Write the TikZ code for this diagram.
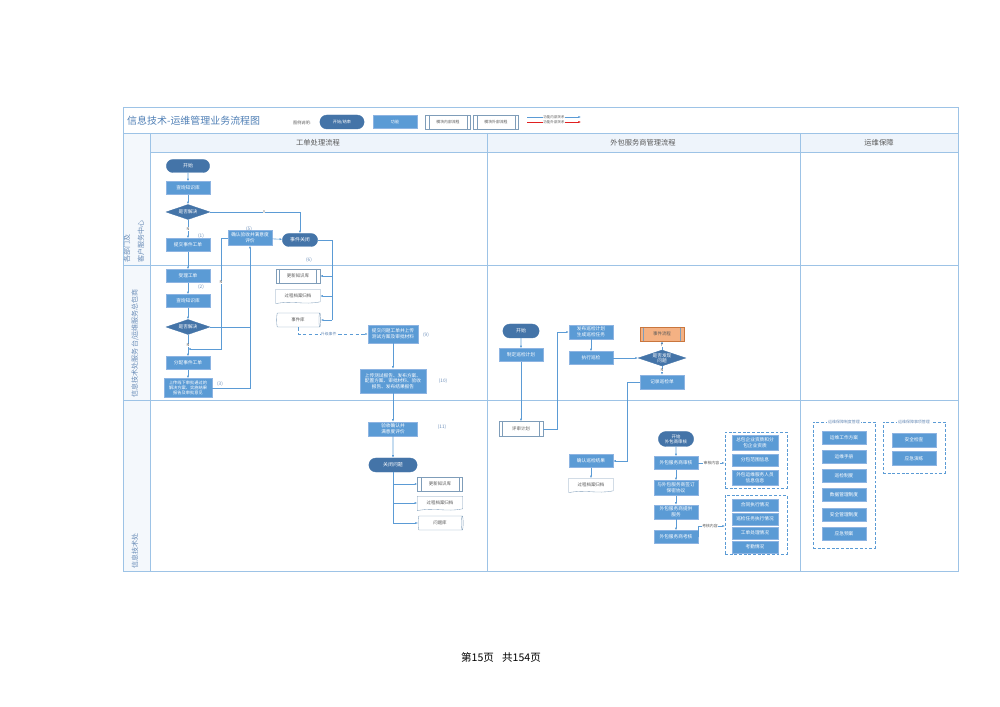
\documentclass[tikz,border=0pt]{standalone}
\usepackage{fontspec}
\setmainfont{Noto Sans CJK SC}
\usetikzlibrary{shapes.geometric,shapes.misc,arrows.meta,calc}
\definecolor{boxb}{HTML}{5B9BD5}
\definecolor{boxe}{HTML}{8DB4E2}
\definecolor{stad}{HTML}{4474A8}
\definecolor{lineb}{HTML}{5B9BD5}
\definecolor{lanec}{HTML}{9DC3E6}
\definecolor{hdrc}{HTML}{EEF4FB}
\definecolor{lanef}{HTML}{F4F8FC}
\definecolor{ttlc}{HTML}{4F7FB5}
\definecolor{lblc}{HTML}{6A8DB8}
\definecolor{orng}{HTML}{F4B183}
\definecolor{orngd}{HTML}{C9763E}
\definecolor{grayt}{HTML}{595959}
\definecolor{shapeb}{HTML}{7F9DB9}
\definecolor{redl}{HTML}{E02020}
\tikzset{
  wh/.style 2 args={minimum width=#1*0.3mm, minimum height=#2*0.3mm},
  cwh/.style 2 args={minimum height=#1*0.3mm, minimum width=#2*0.3mm},
  fbox/.style={rectangle, draw=boxe, line width=0.3pt, fill=boxb, text=white, inner sep=0.3pt, align=center, font=\fontsize{4}{4.8}\selectfont},
  sbox/.style={rounded rectangle, draw=stad, line width=0.3pt, fill=stad, text=white, inner sep=0.3pt, align=center, font=\fontsize{4.2}{5}\selectfont},
  dbox/.style={diamond, aspect=3, draw=stad, line width=0.3pt, fill=stad, text=white, inner sep=0pt, align=center, font=\fontsize{4}{4.6}\selectfont},
  pbox/.style={rectangle, draw=shapeb, line width=0.3pt, fill=white, text=grayt, inner sep=0.3pt, align=center, font=\fontsize{3.8}{4.5}\selectfont,
    path picture={\draw[shapeb, line width=0.3pt] ([xshift=3pt]path picture bounding box.north west) -- ([xshift=3pt]path picture bounding box.south west) ([xshift=-3pt]path picture bounding box.north east) -- ([xshift=-3pt]path picture bounding box.south east);}},
  docn/.style={rectangle, draw=none, text=grayt, inner sep=0.3pt, align=center, font=\fontsize{3.8}{4.5}\selectfont},
  cyl/.style={cylinder, shape aspect=0.35, draw=shapeb, line width=0.3pt, fill=white, text=grayt, inner sep=0.3pt, align=center, font=\fontsize{3.8}{4.5}\selectfont},
  grp/.style={rectangle, draw=boxb, dash pattern=on 2.5pt off 1.5pt, line width=0.5pt, fill=none},
  flow/.style={draw=lineb, line width=0.5pt, -{Latex[length=2.2pt,width=1.8pt]}},
  plain/.style={draw=lineb, line width=0.5pt},
  lbl/.style={text=lblc, font=\fontsize{4}{5}\selectfont, inner sep=0.5pt},
  yn/.style={fill=white, text=grayt, font=\fontsize{3.3}{4}\selectfont, inner sep=0.3pt},
  lanetext/.style={text=lblc, font=\fontsize{6}{7}\selectfont, inner sep=0.5pt},
  hdrtext/.style={text=grayt, font=\fontsize{6.2}{7}\selectfont},
  gtitle/.style={fill=white, text=lblc, font=\fontsize{3.4}{4}\selectfont, inner sep=0.6pt}
}
\newcommand{\docsh}[1]{\draw[shapeb, line width=0.3pt] ([yshift=-0.8pt]#1.south west) -- (#1.north west) -- (#1.north east) -- ([yshift=0.8pt]#1.south east) .. controls ($(#1.south)+(5pt,-2.2pt)$) and ($(#1.south)+(-5pt,2.2pt)$) .. ([yshift=-0.8pt]#1.south west);}
\begin{document}
\begin{tikzpicture}[x=0.3mm,y=-0.3mm]
\useasboundingbox (0,0) rectangle (1000,707);
% frame
\fill[hdrc] (150,133) rectangle (958,152);
\fill[lanef] (123,133) rectangle (150,571);
\draw[lanec, line width=0.6pt] (123,107) rectangle (958,571);
\draw[lanec, line width=0.5pt] (123,133) -- (958,133);
\draw[lanec, line width=0.5pt] (150,152) -- (958,152);
\draw[lanec, line width=0.6pt] (123,265) -- (958,265);
\draw[lanec, line width=0.6pt] (123,400) -- (958,400);
\draw[lanec, line width=0.6pt] (150,133) -- (150,571);
\draw[lanec, line width=0.6pt] (487,133) -- (487,571);
\draw[lanec, line width=0.6pt] (800,133) -- (800,571);
% title & legend
\node[anchor=west, text=ttlc, font=\fontsize{8.5}{10}\selectfont, inner sep=0pt] (title) at (127,121) {信息技术-运维管理业务流程图};
\node[text=grayt, font=\fontsize{3.5}{4}\selectfont] (lg0) at (302,123) {图例说明:};
\node[sbox, wh={45}{14}, font=\fontsize{3.5}{4}\selectfont] (lg1) at (342,122) {开始/结束};
\node[fbox, wh={44}{13}, font=\fontsize{3.5}{4}\selectfont] (lg2) at (395,122) {功能};
\node[pbox, wh={45}{14}, font=\fontsize{3.3}{4}\selectfont] (lg3) at (448,122) {模块内部流程};
\node[pbox, wh={45}{14}, font=\fontsize{3.3}{4}\selectfont] (lg4) at (496,122) {模块外部流程};
\coordinate (la1) at (527,117); \coordinate (la2) at (581,117);
\coordinate (lb1) at (527,122); \coordinate (lb2) at (581,122);
\draw[flow] (la1) -- node[fill=white, inner sep=0.3pt, text=grayt, font=\fontsize{3}{3.5}\selectfont] (lt1) {功能内部关系} (la2);
\draw[flow, draw=redl] (lb1) -- node[fill=white, inner sep=0.3pt, text=grayt, font=\fontsize{3}{3.5}\selectfont] (lt2) {功能外部关系} (lb2);
% headers
\node[hdrtext] (h1) at (318,143) {工单处理流程};
\node[hdrtext] (h2) at (643,143) {外包服务商管理流程};
\node[hdrtext] (h3) at (879,143) {运维保障};
% lane labels
\node[lanetext, rotate=90, anchor=west] (l1a) at (127,263) {各部门及};
\node[lanetext, rotate=90, anchor=west] (l1b) at (141,263) {客户服务中心};
\node[lanetext, rotate=90, anchor=west] (l2) at (135,398) {信息技术处服务台/运维服务总包商};
\node[lanetext, rotate=90, anchor=west] (l3) at (135,569) {信息技术处};
% ---------- column 1 ----------
\node[sbox, wh={44}{13}] (a1) at (188,166) {开始};
\node[fbox, wh={44}{13}] (a2) at (188,188) {查询知识库};
\node[dbox, wh={44}{15}] (a3) at (188,212) {是否解决};
\node[fbox, wh={44}{13}] (a4) at (188,245) {提交事件工单};
\node[fbox, wh={44}{15}] (a5) at (250,238) {确认验收并满意度\\评价};
\node[sbox, wh={36}{13}] (a6) at (300,240) {事件关闭};
\node[fbox, wh={44}{13}] (b1) at (188,276) {受理工单};
\node[fbox, wh={44}{13}] (b2) at (188,301) {查询知识库};
\node[dbox, wh={44}{15}] (b3) at (188,327) {是否解决};
\node[fbox, wh={44}{13}] (b4) at (188,363) {分配事件工单};
\node[fbox, wh={48}{19}, font=\fontsize{3.6}{4.3}\selectfont] (b5) at (188,388) {上传线下审批通过的\\解决方案、实施结果\\报告及审批意见};
\node[pbox, wh={44}{14}] (b6) at (298,276) {更新知识库};
\node[docn, wh={44}{13}] (b7) at (298,296) {过程档案归档};
\docsh{b7}
\node[cyl, cwh={44}{14}] (b8) at (298,320) {事件库};
\node[fbox, wh={50}{18}] (c1) at (393,334) {提交问题工单并上传\\测试方案及审批材料};
\node[fbox, wh={66}{24}] (c2) at (393,381) {上传测试报告、发布方案、\\配置方案、审批材料、验收\\报告、发布结果报告};
\node[fbox, wh={49}{14}] (c3) at (393,429) {验收确认并\\满意度评价};
\node[sbox, wh={49}{14}] (c4) at (393,465) {关闭问题};
\node[pbox, wh={45}{14}] (c5) at (440,484) {更新知识库};
\node[docn, wh={45}{13}] (c6) at (440,503) {过程档案归档};
\docsh{c6}
\node[cyl, cwh={45}{14}] (c7) at (440,523) {问题库};
% labels
\node[lbl] (n1) at (201,236) {(1)};
\node[lbl] (n2) at (201,287) {(2)};
\node[lbl] (n3) at (220,384) {(3)};
\node[lbl] (n5) at (249,229) {(5)};
\node[lbl] (n6) at (309,260) {(6)};
\node[lbl] (n9) at (426,335) {(9)};
\node[lbl] (n10) at (443,381) {(10)};
\node[lbl] (n11) at (442,427) {(11)};
% connectors col 1
\coordinate (r1) at (332,240);
\coordinate (r2) at (332,320);
\coordinate (nb) at (221,349);
\coordinate (cv) at (393,523);
\draw[flow] (a1) -- (a2);
\draw[flow] (a2) -- (a3);
\draw[flow] (a3) -- node[yn] {N} (a4);
\draw[flow] (a3.east) -| node[yn, pos=0.3] {Y} (a6.north);
\draw[flow] (a4) -- (b1);
\draw[flow] (a5) -- (a6);
\draw[plain] (a6.east) -| (r2);
\draw[flow] (b6.east -| r1) -- (b6.east);
\draw[flow] (b7.east -| r1) -- (b7.east);
\draw[flow] (b8.east -| r1) -- (b8.east);
\draw[flow] (b1) -- (b2);
\draw[flow] (b2) -- (b3);
\draw[flow] (b3) -- node[yn] {N} (b4);
\draw[flow] (b4) -- (b5);
\draw[flow] (b5.east) -| (a5.south);
\draw[plain] (b3.east) -- (b3.east -| a5.south);
\draw[flow] (a5.west) -| node[yn, pos=0.7] {N} (nb) -- (nb -| b3.south);
\draw[flow, dash pattern=on 3pt off 2pt] (b8.south) |- node[yn, pos=0.72, text=lblc] {升级事件} (c1.west);
\draw[flow] (c1) -- (c2);
\draw[flow] (c2) -- (c3);
\draw[flow] (c3) -- (c4);
\draw[plain] (c4.south) -- (cv);
\draw[flow] (c5.west -| cv) -- (c5.west);
\draw[flow] (c6.west -| cv) -- (c6.west);
\draw[flow] (c7.west -| cv) -- (c7.west);
% ---------- column 2 ----------
\node[sbox, wh={37}{14}] (d1) at (521,331) {开始};
\node[fbox, wh={44}{13}] (d2) at (521,355) {制定巡检计划};
\node[pbox, wh={44}{15}] (d3) at (521,429) {评审计划};
\node[fbox, wh={44}{14}] (d4) at (591,332) {发布巡检计划\\生成巡检任务};
\node[fbox, wh={44}{13}] (d5) at (591,358) {执行巡检};
\node[dbox, wh={44}{16}] (d6) at (662,358) {是否发现\\问题};
\node[pbox, fill=orng, draw=orngd, wh={44}{14}] (d7) at (662,334) {事件流程};
\node[fbox, wh={44}{14}] (d8) at (662,382) {记录巡检单};
\node[fbox, wh={44}{13}] (d9) at (591,461) {确认巡检结果};
\node[docn, wh={44}{13}] (d10) at (591,485) {过程档案归档};
\docsh{d10}
\coordinate (e1) at (557,429);
\coordinate (e2) at (627,461);
\draw[flow] (d1) -- (d2);
\draw[flow] (d2) -- (d3);
\draw[flow] (d3.east) -- (e1) |- (d4.west);
\draw[flow] (d4) -- (d5);
\draw[flow] (d5) -- (d6);
\draw[flow] (d6) -- node[yn] {Y} (d7);
\draw[flow] (d6) -- node[yn] {N} (d8);
\draw[flow] (d8.west) -| (e2) -- (d9.east);
\draw[flow] (d9) -- (d10);
% outsourcing
\node[sbox, wh={36}{15}, font=\fontsize{3.8}{4.4}\selectfont] (f1) at (676,439) {开始\\外包商审核};
\node[fbox, wh={44}{13}] (f2) at (676,463) {外包服务商审核};
\node[fbox, wh={44}{15}] (f3) at (676,488) {与外包服务商签订\\保密协议};
\node[fbox, wh={44}{14}] (f4) at (676,512) {外包服务商提供\\服务};
\node[fbox, wh={44}{13}] (f5) at (676,537) {外包服务商考核};
\draw[flow] (f1) -- (f2);
\draw[flow] (f2) -- (f3);
\draw[flow] (f3) -- (f4);
\draw[flow] (f4) -- (f5);
\node[grp, wh={62}{56}] (g1) at (756,460) {};
\node[fbox, wh={46}{15}] (g1a) at (755,443) {总包企业资质和分\\包企业资质};
\node[fbox, wh={46}{12}] (g1b) at (755,460) {分包范围信息};
\node[fbox, wh={46}{15}] (g1c) at (755,478) {外包运维服务人员\\信息信息};
\node[grp, wh={62}{59}] (g2) at (756,524.5) {};
\node[fbox, wh={46}{12}] (g2a) at (755,505) {合同执行情况};
\node[fbox, wh={46}{12}] (g2b) at (755,519) {巡检任务执行情况};
\node[fbox, wh={46}{12}] (g2c) at (755,533) {工单处理情况};
\node[fbox, wh={46}{12}] (g2d) at (755,547) {考勤情况};
\coordinate (k1) at (725,526);
\draw[flow] (f2.east) -- node[yn, text=grayt] {审核内容} (f2.east -| g1.west);
\draw[flow] (f5.east) |- node[yn, pos=0.72] {考核内容} (k1);
% ---------- column 3 ----------
\node[grp, wh={62}{126}] (m1) at (844,485) {};
\node[gtitle] (m1t) at (844,422) {运维保障制度管理};
\node[fbox, wh={44}{13}] (m1a) at (844,438) {运维工作方案};
\node[fbox, wh={44}{13}] (m1b) at (844,457) {运维手册};
\node[fbox, wh={44}{13}] (m1c) at (844,476) {巡检制度};
\node[fbox, wh={44}{13}] (m1d) at (844,495) {数据管理制度};
\node[fbox, wh={44}{13}] (m1e) at (844,515) {安全管理制度};
\node[fbox, wh={44}{13}] (m1f) at (844,534) {应急预案};
\node[grp, wh={62}{51}] (m2) at (914,447.5) {};
\node[gtitle] (m2t) at (914,422) {运维保障事项管理};
\node[fbox, wh={44}{14}] (m2a) at (914,440) {安全检查};
\node[fbox, wh={44}{14}] (m2b) at (914,458.5) {应急演练};
% footer
\node[font=\fontsize{9}{11}\selectfont] (pg) at (501,657) {第15页\hspace{7pt}共154页};
\end{tikzpicture}
\end{document}
